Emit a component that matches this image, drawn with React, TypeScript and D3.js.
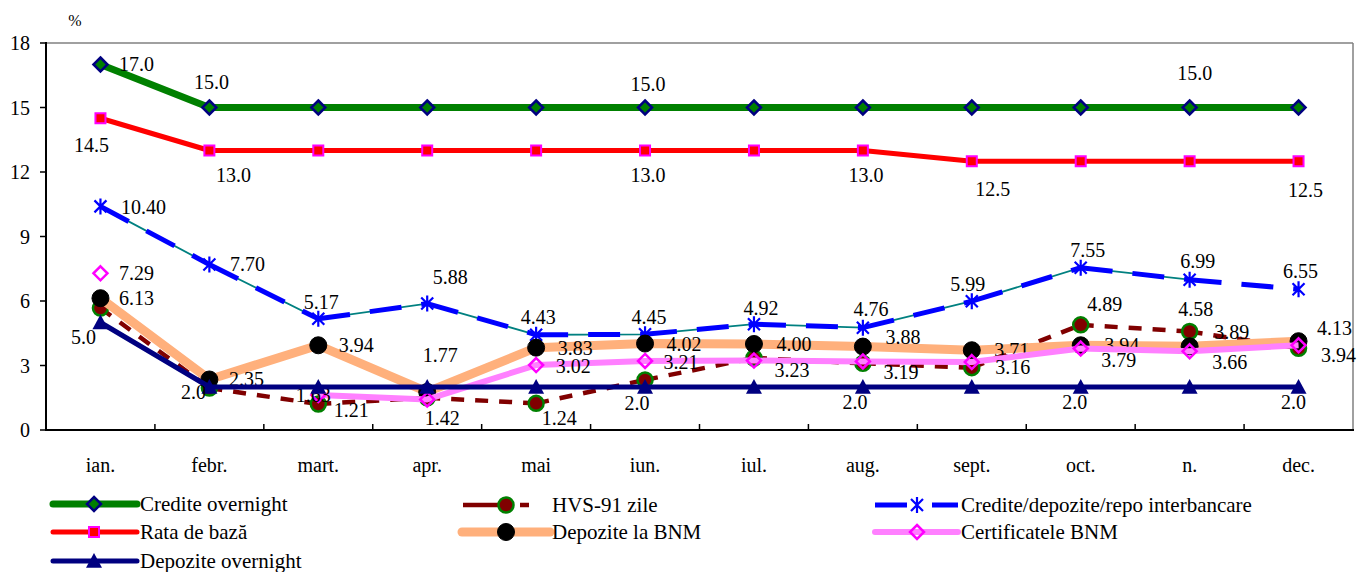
import React from "react";
import * as d3 from "d3";

// ---------- data ----------
const months = ["ian.", "febr.", "mart.", "apr.", "mai", "iun.", "iul.", "aug.", "sept.", "oct.", "n.", "dec."];
const yTicks = [0, 3, 6, 9, 12, 15, 18];

const crediteOvernight = [17, 15, 15, 15, 15, 15, 15, 15, 15, 15, 15, 15];
const rataDeBaza = [14.5, 13, 13, 13, 13, 13, 13, 13, 12.5, 12.5, 12.5, 12.5];
const hvs91 = [5.67, 1.95, 1.21, 1.5, 1.24, 2.33, 3.35, 3.1, 2.9, 4.89, 4.58, 3.8];
const interbancare = [10.4, 7.7, 5.17, 5.88, 4.43, 4.45, 4.92, 4.76, 5.99, 7.55, 6.99, 6.55];
const depoziteBNM = [6.13, 2.35, 3.94, 1.77, 3.83, 4.02, 4.0, 3.88, 3.71, 3.94, 3.89, 4.13];
const certificateBNM: (number | null)[] = [7.29, null, 1.63, 1.42, 3.02, 3.21, 3.23, 3.19, 3.16, 3.79, 3.66, 3.94];
const depoziteOvernight = [5, 2, 2, 2, 2, 2, 2, 2, 2, 2, 2, 2];

// label placement: [month index, dx, dy] relative to the point (text centre)
const labelsCO = [[0, 36, -1], [1, 2, -26], [5, 3, -24], [10, 5, -35]];
const labelsRB = [[0, -9, 27], [1, 24, 24], [5, 3, 24], [7, 3, 24], [8, 21, 28], [11, 7, 29]];
const labelsIB = [[0, 43, 1], [1, 38, 0], [2, 3, -17], [3, 23, -27], [4, 2, -18], [5, 4, -17], [6, 7, -16], [7, 8, -19], [8, -4, -17], [9, 7, -18], [10, 8, -19], [11, 2, -18]];
const labelsCB = [[0, 36, 0], [2, -5, 0], [3, 15, 19], [4, 37, 1], [5, 36, 1], [6, 38, 9], [7, 38, 11], [8, 41, 5], [9, 38, 11], [10, 40, 11], [11, 40, 10]];
const labelsBN = [[0, 36, 0], [1, 37, 0], [2, 38, 0], [3, 13, -37], [4, 39, 0], [5, 39, 0], [6, 40, 0], [7, 40, -10], [8, 40, 0], [9, 41, 0], [10, 42, -14], [11, 36, -13]];
const labelsHV = [[2, 33, 6], [4, 23, 15], [9, 24, -21], [10, 6, -23]];
const labelsDO = [[0, -17, 14], [1, -16, 5], [5, -8, 16], [7, -8, 15], [9, -6, 15], [11, -5, 15]];

type Series = {
  name: string;
  values: (number | null)[];
  decimals: number;
  labels: number[][];
  color: string;
  width: number;
  dash?: string;
  marker: string;
  mFill: string;
  mStroke: string;
  mSize: number;
  mStrokeW: number;
};

// draw order (later on top)
const series: Series[] = [
  { name: "Credite overnight", values: crediteOvernight, decimals: 1, labels: labelsCO, color: "#008000", width: 7, marker: "diamond", mFill: "#008000", mStroke: "#000080", mSize: 7, mStrokeW: 2.5 },
  { name: "HVS-91 zile", values: hvs91, decimals: 2, labels: labelsHV, color: "#800000", width: 4.5, dash: "13,11", marker: "circle", mFill: "#800000", mStroke: "#008000", mSize: 7.5, mStrokeW: 2.5 },
  { name: "Credite/depozite/repo interbancare", values: interbancare, decimals: 2, labels: labelsIB, color: "#0000FF", width: 5, dash: "32,20", marker: "asterisk", mFill: "none", mStroke: "#0000FF", mSize: 8, mStrokeW: 2.2 },
  { name: "Rata de bază", values: rataDeBaza, decimals: 1, labels: labelsRB, color: "#FF0000", width: 5, marker: "square", mFill: "#FF0000", mStroke: "#FF00FF", mSize: 5, mStrokeW: 2 },
  { name: "Depozite la BNM", values: depoziteBNM, decimals: 2, labels: labelsBN, color: "#FFB07C", width: 9, marker: "dot", mFill: "#000000", mStroke: "#000000", mSize: 8.5, mStrokeW: 1 },
  { name: "Certificatele BNM", values: certificateBNM, decimals: 2, labels: labelsCB, color: "#FF80FF", width: 6, marker: "diamondOpen", mFill: "none", mStroke: "#FF00FF", mSize: 7, mStrokeW: 2.5 },
  { name: "Depozite overnight", values: depoziteOvernight, decimals: 1, labels: labelsDO, color: "#000080", width: 5, marker: "triangle", mFill: "#000080", mStroke: "#000080", mSize: 8, mStrokeW: 1 },
];

// legend layout: [series name, line x1, line x2, marker x, row y]
const legendItems: [string, number, number, number, number][] = [
  ["Credite overnight", 53, 137, 94, 504],
  ["Rata de bază", 53, 137, 94, 532],
  ["Depozite overnight", 53, 137, 94, 561],
  ["HVS-91 zile", 463, 529, 506, 505],
  ["Depozite la BNM", 462, 550, 506, 532],
  ["Credite/depozite/repo interbancare", 875, 958, 917, 505],
  ["Certificatele BNM", 875, 958, 917, 532],
];

const FONT = '"Liberation Serif", "Times New Roman", "DejaVu Serif", serif';
const tStyle = { fontFamily: FONT };

function Marker({ s, x, y }: { s: Series; x: number; y: number }) {
  const r = s.mSize;
  switch (s.marker) {
    case "diamond":
    case "diamondOpen":
      return <path d={`M${x},${y - r}L${x + r},${y}L${x},${y + r}L${x - r},${y}Z`} fill={s.marker === "diamondOpen" ? "#fff" : s.mFill} fillOpacity={s.marker === "diamondOpen" ? 0 : 1} stroke={s.mStroke} strokeWidth={s.mStrokeW} />;
    case "square":
      return <rect x={x - r} y={y - r} width={2 * r} height={2 * r} fill={s.mFill} stroke={s.mStroke} strokeWidth={s.mStrokeW} />;
    case "circle":
    case "dot":
      return <circle cx={x} cy={y} r={r} fill={s.mFill} stroke={s.mStroke} strokeWidth={s.mStrokeW} />;
    case "triangle":
      return <path d={`M${x},${y - r}L${x + r},${y + r * 0.85}L${x - r},${y + r * 0.85}Z`} fill={s.mFill} />;
    case "asterisk": {
      const a = r * 0.75;
      return (
        <path
          d={`M${x},${y - r}L${x},${y + r}M${x - a},${y - a}L${x + a},${y + a}M${x - a},${y + a}L${x + a},${y - a}`}
          stroke={s.mStroke}
          strokeWidth={s.mStrokeW}
          fill="none"
        />
      );
    }
  }
  return null;
}

export default function App() {
  const W = 1358;
  const H = 572;
  const x = d3.scaleBand<string>().domain(months).range([46, 1353]);
  const bw = x.bandwidth();
  const cx = (i: number) => (x(months[i]) as number) + bw / 2;
  const y = d3.scaleLinear().domain([0, 18]).range([430, 43]);

  const lineGen = d3
    .line<number | null>()
    .defined((v) => v != null)
    .x((_, i) => cx(i))
    .y((v) => y(v as number));

  const segs = (vals: (number | null)[]) => {
    const out: [number, number, number, number][] = [];
    for (let i = 0; i < vals.length - 1; i++) {
      const a = vals[i], b = vals[i + 1];
      if (a != null && b != null) out.push([cx(i), y(a), cx(i + 1), y(b)]);
    }
    return out;
  };

  const byName = (n: string) => series.find((s) => s.name === n) as Series;

  return (
    <svg width={W} height={H} style={{ position: "absolute", left: 0, top: 0, background: "#fff", fontFamily: FONT }}>
      <rect x={0} y={0} width={W} height={H} fill="#fff" />
      {/* frame */}
      <line x1={46} y1={43} x2={1353} y2={43} stroke="#808080" strokeWidth={1.5} />
      <line x1={1353} y1={43} x2={1353} y2={430} stroke="#808080" strokeWidth={1.5} />
      <line x1={46} y1={42} x2={46} y2={431} stroke="#000" strokeWidth={2} />
      <line x1={45} y1={430} x2={1354} y2={430} stroke="#000" strokeWidth={2} />
      {yTicks.map((t) => (
        <g key={t}>
          <line x1={40} x2={46} y1={y(t)} y2={y(t)} stroke="#000" strokeWidth={1.5} />
          <text x={30} y={y(t)} textAnchor="end" dominantBaseline="central" fontSize={20} style={tStyle}>
            {t}
          </text>
        </g>
      ))}
      {months.map((m, i) => (
        <g key={m}>
          {i > 0 && <line x1={x(m) as number} x2={x(m) as number} y1={430} y2={424} stroke="#000" strokeWidth={1.5} />}
          <text x={cx(i)} y={465} textAnchor="middle" dominantBaseline="central" fontSize={20} style={tStyle}>
            {m}
          </text>
        </g>
      ))}
      <text x={75} y={20} textAnchor="middle" dominantBaseline="central" fontSize={16} style={tStyle}>
        %
      </text>

      {/* series */}
      {series.map((s) => (
        <g key={s.name}>
          {s.name === "Credite/depozite/repo interbancare" && (
            <path d={lineGen(s.values.slice(0, 11)) || ""} fill="none" stroke="#008080" strokeWidth={1.8} />
          )}
          {s.dash ? (
            segs(s.values).map((g, k) => (
              <line key={k} x1={g[0]} y1={g[1]} x2={g[2]} y2={g[3]} stroke={s.color} strokeWidth={s.width} strokeDasharray={s.dash} />
            ))
          ) : (
            <path d={lineGen(s.values) || ""} fill="none" stroke={s.color} strokeWidth={s.width} strokeLinejoin="round" />
          )}
          {s.values.map((v, i) => (v == null ? null : <Marker key={i} s={s} x={cx(i)} y={y(v)} />))}
          {s.labels.map(([i, dx, dy]) => {
            const v = s.values[i] as number;
            return (
              <text key={"l" + i} x={cx(i) + dx} y={y(v) + dy} textAnchor="middle" dominantBaseline="central" fontSize={20} style={tStyle}>
                {v.toFixed(s.decimals)}
              </text>
            );
          })}
        </g>
      ))}

      {/* legend */}
      {legendItems.map(([n, x1, x2, mx, ly]) => {
        const s = byName(n);
        return (
          <g key={n}>
            <line x1={x1} x2={x2} y1={ly} y2={ly} stroke={s.color} strokeWidth={s.width} strokeLinecap={s.dash ? "butt" : "round"} strokeDasharray={s.name === "HVS-91 zile" ? "48,9,9" : s.dash ? "32,25" : undefined} />
            <Marker s={s} x={mx} y={ly} />
            <text x={n === "HVS-91 zile" || n === "Depozite la BNM" ? 552 : x2 + 3} y={ly} dominantBaseline="central" fontSize={21} style={tStyle}>
              {n}
            </text>
          </g>
        );
      })}
    </svg>
  );
}
